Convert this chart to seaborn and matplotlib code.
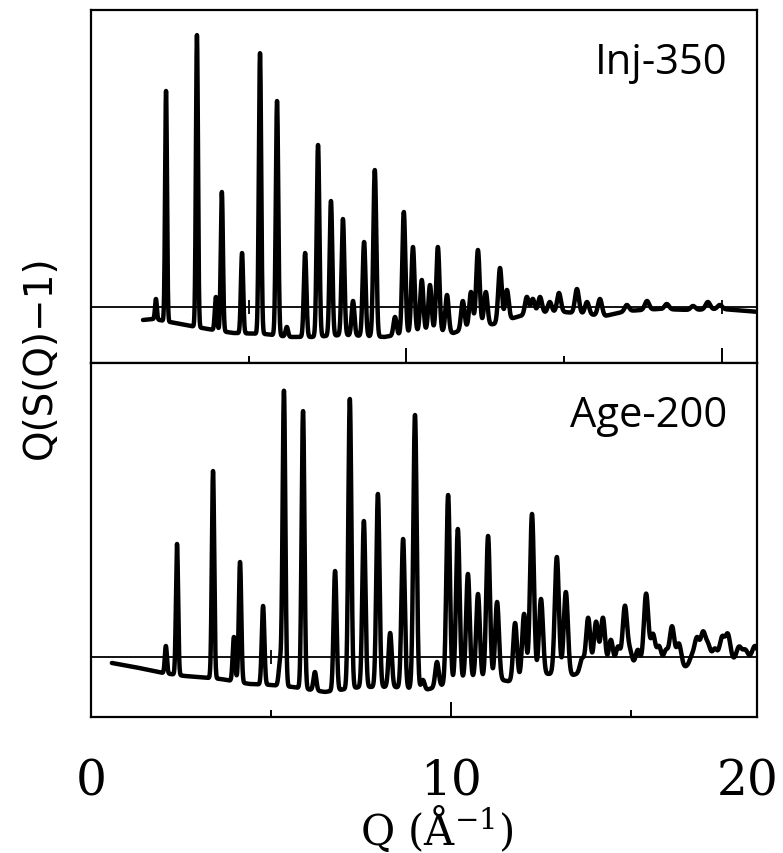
import numpy as np
import matplotlib
matplotlib.use("Agg")
import matplotlib.pyplot as plt
import seaborn as sns

# peak positions (Q) and peak-top values
inj_q = [2.06, 2.38, 3.36, 3.96, 4.15, 4.79, 5.36, 5.90, 6.21, 6.79, 7.20, 7.61,
         7.99, 8.31, 8.66, 9.00, 9.64, 9.92, 10.21, 10.49, 10.75, 11.00, 11.29,
         11.79, 12.05, 12.27, 12.52, 12.97, 13.19, 13.82, 14.01, 14.24, 14.55,
         14.84, 15.41, 15.73, 16.14, 16.99, 17.63, 18.26, 19.09, 19.56, 19.94]
inj_h = [0.8, 21.6, 27.2, 1.0, 11.5, 5.4, 25.4, 20.6, -2.0, 5.4, 16.2, 10.6,
         8.8, 0.6, 6.5, 13.7, -1.0, 9.5, 6.0, 2.7, 2.2, 6.0, 1.2,
         0.6, 1.5, 5.7, 1.5, 3.9, 1.7, 1.0, 0.8, 1.0, 0.5,
         1.4, 1.8, 0.5, 0.8, 0.2, 0.6, 0.3, 0.1, 0.5, 0.2]
inj_bg_q = [1.65, 2.0, 2.5, 3.0, 3.7, 4.5, 5.5, 6.3, 7.0, 8.0, 9.3, 9.7, 10.5,
            11.5, 12.0, 12.8, 13.5, 14.0, 15.0, 16.3, 17.0, 18.0, 19.0, 20.0, 21.2]
inj_bg_v = [-1.3, -1.2, -1.5, -1.8, -2.2, -2.6, -2.7, -3.0, -3.0, -2.8, -3.0, -2.8,
            -2.4, -2.6, -2.0, -1.7, -1.0, -0.6, -0.5, -0.9, -0.4, -0.2, -0.3, -0.2, -0.5]

age_q = [2.08, 2.39, 3.39, 3.97, 4.14, 4.78, 5.25, 5.36, 5.89, 6.22, 6.78, 7.19,
         7.58, 7.97, 8.31, 8.67, 9.00, 9.22, 9.61, 9.92, 10.19, 10.47, 10.75,
         11.03, 11.28, 11.78, 12.03, 12.25, 12.50, 12.94, 13.19, 13.64, 13.81,
         14.03, 14.22, 14.44, 14.64, 14.83, 14.97, 15.19, 15.42, 15.61, 15.78,
         15.97, 16.14, 16.33, 16.69, 16.83, 17.00, 17.14, 17.33, 17.53, 17.69,
         18.00, 18.17, 18.44]
age_h = [1.1, 11.3, 18.6, 2.0, 9.5, 5.1, -0.6, 26.6, 24.6, -1.5, 8.6, 25.8,
         13.6, 16.3, 2.4, 11.8, 24.2, -2.3, -0.5, 16.2, 12.8, 8.3, 6.3,
         12.1, 5.5, 3.4, 4.3, 14.3, 5.8, 10.0, 6.5, -0.2, 3.9,
         3.5, 3.9, 1.7, 1.0, 5.0, 0.5, 0.7, 6.3, 2.2, 1.0,
         0.6, 3.0, 1.3, 0.0, 1.8, 2.3, 1.1, 0.8, 1.9, 2.2,
         1.0, 0.7, 1.1]
age_bg_q = [0.58, 1.2, 2.0, 2.6, 3.6, 4.4, 5.0, 5.6, 6.5, 7.5, 8.4, 9.3, 9.8,
            10.5, 11.4, 11.7, 12.7, 13.4, 14.0, 15.0, 16.5, 17.0, 18.0, 18.5]
age_bg_v = [-0.6, -1.0, -1.6, -1.9, -2.2, -2.7, -2.8, -3.0, -3.5, -3.0, -3.0, -3.3,
            -2.8, -2.2, -2.3, -2.5, -1.7, -1.8, -1.2, -1.0, -1.0, -0.5, -0.3, 0.0]

panel_names = ["Inj-350", "Age-200"]
zero_marks_inj = [5, 10, 20]
zero_marks_age = [5]


def pattern(q_start, q_end, centers, heights, bg_q, bg_v):
    q = np.linspace(q_start, q_end, 6000)
    bg = np.interp(q, bg_q, bg_v)
    y = bg.copy()
    c = np.array(centers)
    amp = np.array(heights) - np.interp(c, bg_q, bg_v)
    sig = 0.024 + 0.0025 * c
    for ci, ai, si in zip(c, amp, sig):
        y += ai * np.exp(-0.5 * ((q - ci) / si) ** 2)
    return q, y


sns.set_style("white")
plt.rcParams["mathtext.default"] = "regular"
plt.rcParams["text.color"] = "black"
plt.rcParams["xtick.color"] = "black"
plt.rcParams["axes.labelcolor"] = "black"

fig = plt.figure(figsize=(7.83, 8.54), dpi=100)
ax1 = fig.add_axes([0.1162, 0.5738, 0.8506, 0.4133])
ax2 = fig.add_axes([0.1162, 0.1593, 0.8506, 0.4145])

q1, y1 = pattern(1.65, 21.2, inj_q, inj_h, inj_bg_q, inj_bg_v)
q2, y2 = pattern(0.58, 18.5, age_q, age_h, age_bg_q, age_bg_v)

for ax, q, y, name, marks in [(ax1, q1, y1, panel_names[0], zero_marks_inj),
                              (ax2, q2, y2, panel_names[1], zero_marks_age)]:
    ax.axhline(0, color="black", lw=1.3, zorder=1)
    sns.lineplot(x=q, y=y, ax=ax, color="black", linewidth=3.2,
                 estimator=None, sort=False, legend=False, zorder=2)
    ax.plot(marks, np.zeros(len(marks)), ls="none", marker="|", ms=10,
            mew=1.3, color="black", zorder=1)
    ax.text(0.956, 0.822, name, transform=ax.transAxes, ha="right",
            va="baseline", fontsize=30, family="Open Sans", color="black")
    ax.set_yticks([])
    ax.set_ylabel("")
    for s in ax.spines.values():
        s.set_linewidth(1.6)
        s.set_color("black")
    ax.tick_params(axis="x", which="major", direction="in", length=11,
                   width=1.4, bottom=True, top=False, color="black")
    ax.tick_params(axis="x", which="minor", direction="in", length=5,
                   width=1.4, bottom=True, top=False, color="black")

ax1.set_xlim(0, 21.12)
ax1.set_ylim(-5.6, 29.7)
ax1.set_xticks([10, 20])
ax1.set_xticks([5, 15], minor=True)
ax1.tick_params(axis="x", labelbottom=False)

ax2.set_xlim(0, 18.5)
ax2.set_ylim(-6.0, 29.4)
ax2.set_xticks([0, 10, 18.25], labels=["0", "10", "20"])
ax2.set_xticks([5, 15], minor=True)
ax2.xaxis.get_major_ticks()[2].tick1line.set_visible(False)
ax2.tick_params(axis="x", which="major", pad=29, labelsize=35)
for lab in ax2.get_xticklabels():
    lab.set_family("DejaVu Serif")
ax2.set_xlabel("")
fig.text(437 / 783, 1 - 845 / 854, "Q (Å$^{-1}$)", ha="center", va="baseline",
         fontsize=30, family="DejaVu Serif", color="black")

fig.text(40 / 783, 1 - 357 / 854, "Q(S(Q)\u22121)", rotation=90, ha="center",
         va="center", fontsize=28, family="DejaVu Sans", color="black")

fig.savefig("out.png", dpi=100)
